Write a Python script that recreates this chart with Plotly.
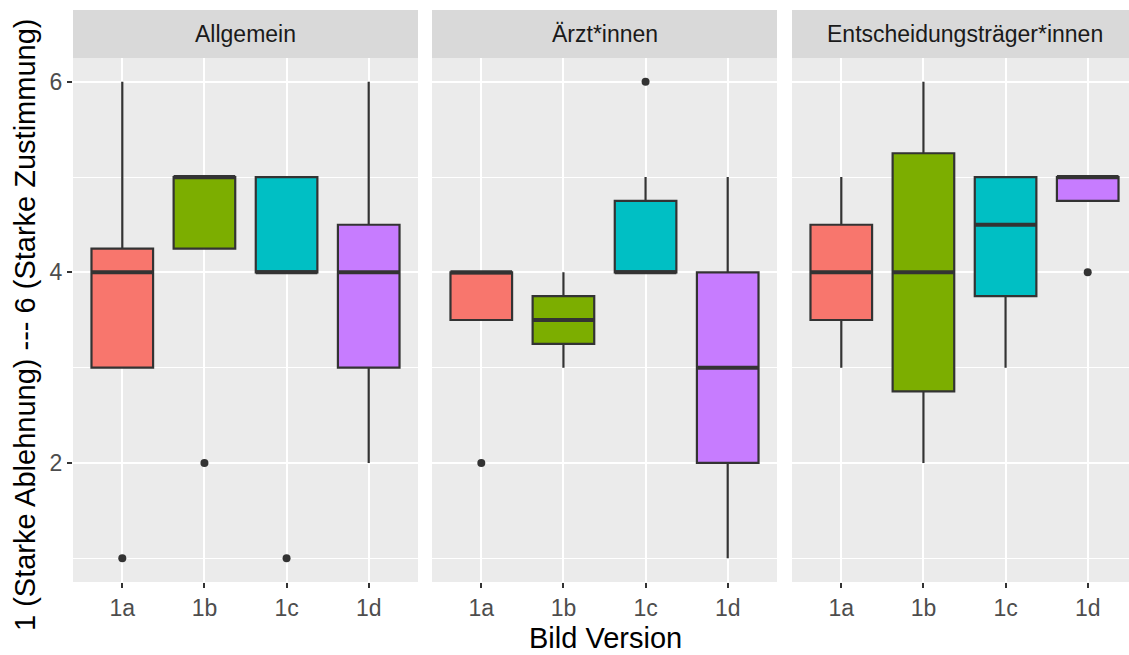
import plotly.graph_objects as go

versions = ["1a", "1b", "1c", "1d"]
facets = ["Allgemein", "Ärzt*innen", "Entscheidungsträger*innen"]
colors = ["#F8766D", "#7CAE00", "#00BFC4", "#C77CFF"]

# box statistics per facet (order: 1a, 1b, 1c, 1d)
allg_q1 = [3.0, 4.25, 4.0, 3.0]
allg_med = [4.0, 5.0, 4.0, 4.0]
allg_q3 = [4.25, 5.0, 5.0, 4.5]
allg_lo = [3.0, 4.25, 4.0, 2.0]
allg_hi = [6.0, 5.0, 5.0, 6.0]
allg_out = [[1], [2], [1], []]

arzt_q1 = [3.5, 3.25, 4.0, 2.0]
arzt_med = [4.0, 3.5, 4.0, 3.0]
arzt_q3 = [4.0, 3.75, 4.75, 4.0]
arzt_lo = [3.5, 3.0, 4.0, 1.0]
arzt_hi = [4.0, 4.0, 5.0, 5.0]
arzt_out = [[2], [], [6], []]

ent_q1 = [3.5, 2.75, 3.75, 4.75]
ent_med = [4.0, 4.0, 4.5, 5.0]
ent_q3 = [4.5, 5.25, 5.0, 5.0]
ent_lo = [3.0, 2.0, 3.0, 4.75]
ent_hi = [5.0, 6.0, 5.0, 5.0]
ent_out = [[], [], [], [4]]

y_major = [2, 4, 6]
y_minor = [1, 3, 5]

stats = [
    (allg_q1, allg_med, allg_q3, allg_lo, allg_hi, allg_out),
    (arzt_q1, arzt_med, arzt_q3, arzt_lo, arzt_hi, arzt_out),
    (ent_q1, ent_med, ent_q3, ent_lo, ent_hi, ent_out),
]

W, H = 1129, 655
ML, MR, MT, MB = 73, 0, 10, 73
pw = W - ML - MR
ph = H - MT - MB
panel_px = [(73, 418), (432, 777), (792, 1129)]
full_w = 345.0
strip_h = 48
plot_top = (ph - strip_h) / ph

FONT = "Liberation Sans, Arial, sans-serif"
BOXW = 0.75
fig = go.Figure()

axnames = ["", "2", "3"]
for f, (q1, med, q3, lo, hi, out) in enumerate(stats):
    xa = "x" + axnames[f]
    ya = "y" + axnames[f]
    for i in range(len(versions)):
        fig.add_trace(go.Box(
            x=[i], q1=[q1[i]], median=[med[i]], q3=[q3[i]],
            lowerfence=[lo[i]], upperfence=[hi[i]],
            width=BOXW, boxpoints=False, whiskerwidth=0,
            fillcolor=colors[i], line=dict(color="#333333", width=2.2),
            xaxis=xa, yaxis=ya, showlegend=False, hoverinfo="skip"))
        fig.add_trace(go.Scatter(
            x=[i - BOXW / 2, i + BOXW / 2], y=[med[i], med[i]], mode="lines",
            line=dict(color="#333333", width=4),
            xaxis=xa, yaxis=ya, showlegend=False, hoverinfo="skip"))
        if out[i]:
            fig.add_trace(go.Scatter(
                x=[i] * len(out[i]), y=out[i], mode="markers",
                marker=dict(color="#333333", size=8),
                xaxis=xa, yaxis=ya, showlegend=False, hoverinfo="skip"))

layout = dict(
    width=W, height=H,
    margin=dict(l=ML, r=MR, t=MT, b=MB, pad=0),
    paper_bgcolor="white", plot_bgcolor="#EBEBEB",
    font=dict(family=FONT),
    showlegend=False,
)

for f in range(3):
    x0, x1 = panel_px[f]
    width_px = x1 - x0
    rng_end = -0.6 + width_px / full_w * 4.2
    layout["xaxis" + axnames[f]] = dict(
        domain=[(x0 - ML) / pw, (x1 - ML) / pw],
        range=[-0.6, rng_end], anchor="y" + axnames[f],
        tickvals=list(range(len(versions))), ticktext=versions,
        ticks="outside", ticklen=5, tickwidth=1.6, tickcolor="#333333",
        tickfont=dict(size=23, color="#4D4D4D", family=FONT),
        showgrid=True, gridcolor="white", gridwidth=1.8,
        zeroline=False, showline=False, fixedrange=True,
    )
    yax = dict(
        domain=[0, plot_top], range=[0.75, 6.25], anchor="x" + axnames[f],
        tickvals=y_major,
        showgrid=True, gridcolor="white", gridwidth=1.8,
        minor=dict(tickvals=y_minor, showgrid=True, gridcolor="white", gridwidth=0.9, ticks=""),
        zeroline=False, showline=False, fixedrange=True,
    )
    if f == 0:
        yax.update(ticks="outside", ticklen=5, tickwidth=1.6, tickcolor="#333333",
                   tickfont=dict(size=23, color="#4D4D4D", family=FONT),
                   showticklabels=True)
    else:
        yax.update(ticks="", showticklabels=False, matches="y")
    layout["yaxis" + axnames[f]] = yax

fig.update_layout(**layout)

shapes = []
annotations = []
for f in range(3):
    xa = "x" + axnames[f]
    shapes.append(dict(type="rect", xref=xa + " domain", yref="paper",
                       x0=0, x1=1, y0=plot_top, y1=1,
                       fillcolor="#D9D9D9", line=dict(width=0), layer="below"))
    annotations.append(dict(text=facets[f], xref=xa, yref="paper",
                            x=1.5, y=(plot_top + 1) / 2, showarrow=False,
                            xanchor="center", yanchor="middle",
                            font=dict(size=23, color="#1A1A1A", family=FONT)))

annotations.append(dict(text="Bild Version", xref="paper", yref="paper",
                        x=(605 - ML) / pw, y=(H - MB - 638) / ph, showarrow=False,
                        xanchor="center", yanchor="middle",
                        font=dict(size=29, color="black", family=FONT)))
annotations.append(dict(text="1 (Starke Ablehnung) --- 6 (Starke Zustimmung)",
                        xref="paper", yref="paper",
                        x=(25 - ML) / pw, y=(H - MB - 325) / ph, showarrow=False,
                        textangle=-90, xanchor="center", yanchor="middle",
                        font=dict(size=29, color="black", family=FONT)))

fig.update_layout(shapes=shapes, annotations=annotations)
fig.write_html("out.html")
